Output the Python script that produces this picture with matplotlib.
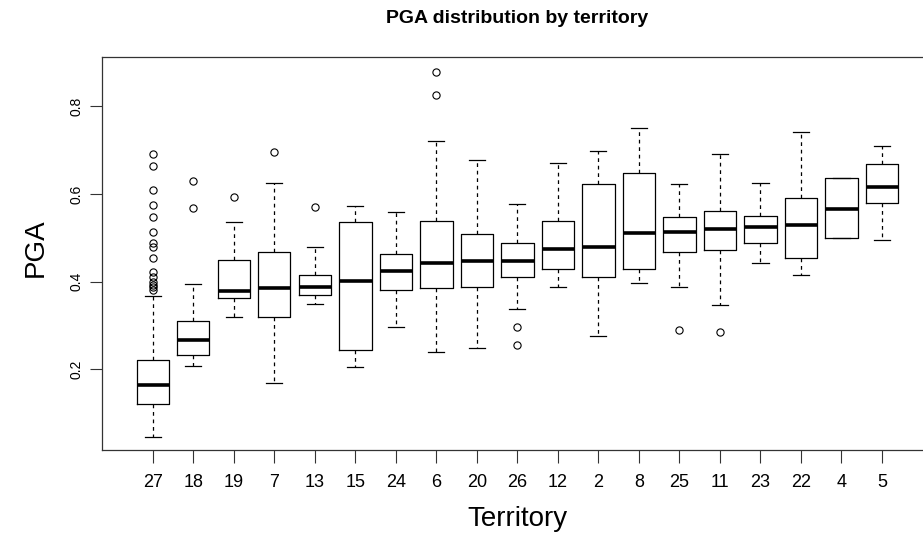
import matplotlib
matplotlib.use("Agg")
import matplotlib.pyplot as plt

# territories in plotting order (sorted by median PGA)
territories = ["27", "18", "19", "7", "13", "15", "24", "6", "20", "26",
               "12", "2", "8", "25", "11", "23", "22", "4", "5"]

q1 = [0.122, 0.233, 0.362, 0.319, 0.369, 0.244, 0.381, 0.385, 0.387, 0.411,
      0.429, 0.411, 0.429, 0.468, 0.472, 0.489, 0.455, 0.500, 0.579]
med = [0.164, 0.267, 0.379, 0.385, 0.387, 0.402, 0.425, 0.442, 0.448, 0.448,
       0.474, 0.480, 0.512, 0.514, 0.520, 0.525, 0.529, 0.565, 0.616]
q3 = [0.221, 0.311, 0.449, 0.468, 0.415, 0.537, 0.463, 0.538, 0.508, 0.489,
      0.538, 0.622, 0.647, 0.548, 0.562, 0.550, 0.590, 0.636, 0.668]
whis_lo = [0.046, 0.208, 0.320, 0.168, 0.350, 0.205, 0.296, 0.240, 0.249, 0.337,
           0.387, 0.276, 0.398, 0.387, 0.347, 0.442, 0.415, 0.500, 0.495]
whis_hi = [0.367, 0.394, 0.537, 0.626, 0.480, 0.572, 0.559, 0.721, 0.677, 0.576,
           0.671, 0.699, 0.750, 0.622, 0.691, 0.626, 0.742, 0.636, 0.709]
outliers = [
    [0.691, 0.664, 0.610, 0.575, 0.548, 0.514, 0.487, 0.479, 0.454,
     0.423, 0.411, 0.400, 0.392, 0.388, 0.381],
    [0.629, 0.567],
    [0.594],
    [0.696],
    [0.571],
    [],
    [],
    [0.879, 0.826],
    [],
    [0.297, 0.255],
    [],
    [],
    [],
    [0.290],
    [0.286],
    [],
    [],
    [],
    [],
]

stats = []
for i in range(len(territories)):
    stats.append({"label": territories[i], "q1": q1[i], "med": med[i], "q3": q3[i],
                  "whislo": whis_lo[i], "whishi": whis_hi[i], "fliers": outliers[i]})

plt.rcParams["font.family"] = ["Liberation Sans", "DejaVu Sans"]

fig = plt.figure(figsize=(9.23, 5.39), dpi=100)
# axes right edge runs past the picture, as in the cropped original
ax = fig.add_axes([101.7 / 923, 1 - 450 / 539, 831.3 / 923, 393.3 / 539])

ax.bxp(stats, positions=range(1, len(territories) + 1), widths=0.8,
       showfliers=True,
       boxprops=dict(color="black", linewidth=0.9),
       medianprops=dict(color="black", linewidth=2.6, solid_capstyle="butt"),
       whiskerprops=dict(color="black", linewidth=0.9, linestyle=(0, (3, 3))),
       capprops=dict(color="black", linewidth=0.9),
       capwidths=0.4,
       flierprops=dict(marker="o", markerfacecolor="none", markeredgecolor="black",
                       markersize=5.2, markeredgewidth=0.8, linestyle="none"))

ax.set_xlim(-0.26, 20.26)
ax.set_ylim(0.016, 0.913)
ax.set_yticks([0.2, 0.4, 0.6, 0.8])
ax.set_yticklabels(["0.2", "0.4", "0.6", "0.8"], rotation=90, va="center")

for s in ax.spines.values():
    s.set_color("#333333")
    s.set_linewidth(0.9)

ax.tick_params(axis="x", length=9, width=0.8, labelsize=13, pad=8, color="#333333")
ax.tick_params(axis="y", length=9, width=0.8, labelsize=10, pad=4, color="#333333")

ax.set_xlabel("Territory", fontsize=20)
ax.xaxis.set_label_coords(0.5, -0.142)
ax.set_ylabel("PGA", fontsize=20)
ax.yaxis.set_label_coords(-0.064, 0.515)
ax.set_title("PGA distribution by territory", fontsize=14, fontweight="bold",
             y=1 + 38.2 / 393.3, va="center", pad=0)

fig.savefig("out.png", dpi=100)
